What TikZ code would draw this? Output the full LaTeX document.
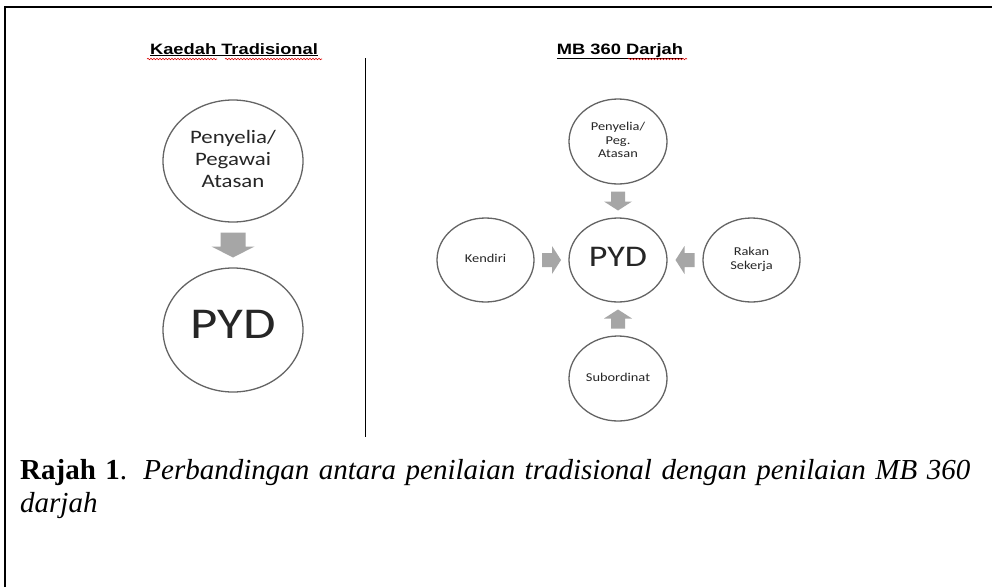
\documentclass[tikz,border=0pt]{standalone}
\usepackage{fontspec}
\setmainfont{Liberation Serif}
\newfontfamily\calibri{Carlito}
\newfontfamily\arialfont{Liberation Sans}
\usetikzlibrary{shapes.geometric,calc,decorations.pathmorphing}

\definecolor{ringgray}{RGB}{100,100,100}
\definecolor{arrowgray}{RGB}{166,166,166}

% widened text block (the pasted diagram is stretched sideways)
\newcommand{\wtext}[3]{\scalebox{1.2}[1]{\fontsize{#1}{#2}\selectfont\begin{tabular}{@{}c@{}}#3\end{tabular}}}

\tikzset{
  ring/.style={ellipse, draw=ringgray, line width=1.3pt, inner sep=0pt, text=black!85, font=\calibri},
  heading/.style={anchor=base, inner sep=0pt, font=\arialfont\bfseries},
  squiggle/.style={red!85!black, line width=0.6pt, decorate, decoration={snake, amplitude=0.7pt, segment length=3pt}},
  bigarr/.pic={\fill[arrowgray] (-12.5,-12.5) -- (1.5,-12.5) -- (1.5,-21.5) -- (12.5,0) -- (1.5,21.5) -- (1.5,12.5) -- (-12.5,12.5) -- cycle;},
  smallarr/.pic={\fill[arrowgray] (-9.5,-7) -- (0.5,-7) -- (0.5,-14) -- (9.5,0) -- (0.5,14) -- (0.5,7) -- (-9.5,7) -- cycle;}
}

\begin{document}
\begin{tikzpicture}[x=1pt, y=-1pt]
    % Page area and frame
    \fill[white] (0,0) rectangle (992,587);
    \useasboundingbox (0,0) rectangle (992,587);
    \draw[line width=2.2pt] (5,587) -- (5,7) -- (992,7);
    % Column headings
    \node[heading] (hleft) at (234,54) {\scalebox{1.22}[1]{\fontsize{15}{18}\selectfont\underline{Kaedah Tradisional}}};
    \node[heading] (hright) at (620,54) {\scalebox{1.22}[1]{\fontsize{15}{18}\selectfont\underline{MB 360 Darjah}}};
    \draw[squiggle] (147,59) -- (217,59);
    \draw[squiggle] (225,59) -- (322,59);
    \draw[squiggle] (628,59) -- (687,59);
    % Divider between the two methods
    \draw[line width=1pt] (365,58) -- (365,437);
    % Traditional method
    \node[ring, minimum width=140pt, minimum height=122pt] (lsup) at (233,161) {\wtext{19}{22}{Penyelia/\\Pegawai\\Atasan}};
    \node[ring, minimum width=140pt, minimum height=124pt] (lpyd) at (233,330) {\wtext{44}{44}{PYD}};
    \pic[rotate=-90] at ($(lsup.south)!0.5!(lpyd.north)$) {bigarr};
    % 360 degree method
    \node[ring, minimum width=98pt, minimum height=84pt] (rpyd) at (618,260) {\wtext{30}{30}{PYD}};
    \node[ring, minimum width=98pt, minimum height=85pt] (rsup) at (618,141.5) {\wtext{12}{13.5}{Penyelia/\\Peg.\\Atasan}};
    \node[ring, minimum width=97pt, minimum height=84pt] (kendiri) at (485.5,260) {\wtext{12}{13.5}{Kendiri}};
    \node[ring, minimum width=97pt, minimum height=84pt] (rakan) at (751.5,260) {\wtext{12}{13.5}{Rakan\\Sekerja}};
    \node[ring, minimum width=98pt, minimum height=85pt] (subord) at (618,378.5) {\wtext{12}{13.5}{Subordinat}};
    \pic[rotate=-90] at ($(rsup.south)!0.5!(rpyd.north)$) {smallarr};
    \pic at ($(kendiri.east)!0.5!(rpyd.west)$) {smallarr};
    \pic[rotate=180] at ($(rakan.west)!0.5!(rpyd.east)$) {smallarr};
    \pic[rotate=90] at ($(subord.north)!0.5!(rpyd.south)$) {smallarr};
    % Caption
    \node[anchor=base west, inner sep=0pt, font=\fontsize{29}{38}\selectfont] (cap1) at (20,479)
        {\makebox[950pt][s]{\textbf{Rajah 1}. \textit{Perbandingan antara penilaian tradisional dengan penilaian MB 360}}};
    \node[anchor=base west, inner sep=0pt, font=\fontsize{29}{38}\selectfont\itshape] (cap2) at (20,512) {darjah};
\end{tikzpicture}
\end{document}
